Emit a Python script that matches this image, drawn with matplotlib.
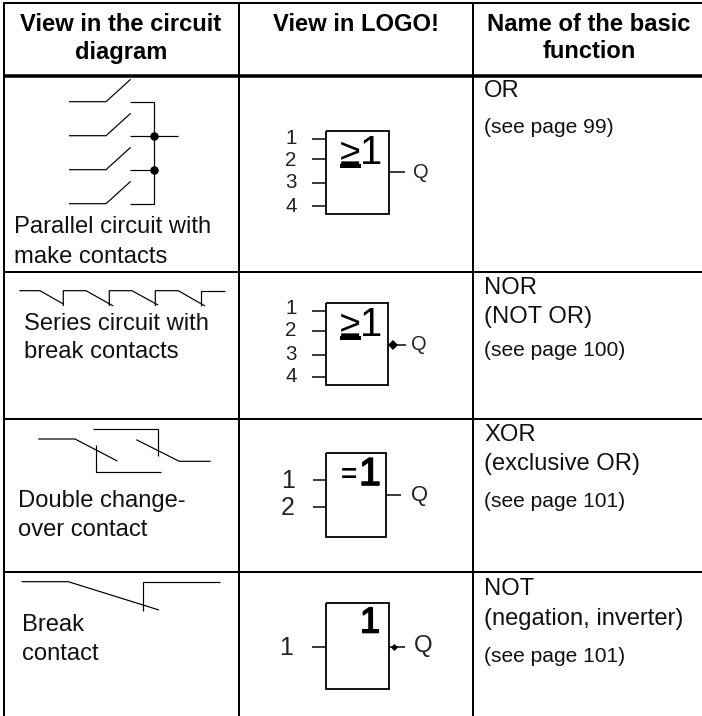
import matplotlib
matplotlib.use("Agg")
import matplotlib.pyplot as plt
import matplotlib.patheffects as pe

plt.rcParams['font.family'] = ['Liberation Sans', 'DejaVu Sans']

# table grid
grid_x = [4, 239, 473]
grid_y = [3, 75.5, 272, 419, 571.5]

# text, centre x, baseline y
headers = [
    ("View in the circuit", 121, 31), ("diagram", 121, 58.5),
    ("View in LOGO!", 356, 31),
    ("Name of the basic", 589, 31), ("function", 589, 58.5),
]

# text, x, baseline y
circuit_labels = [
    ("Parallel circuit with", 14, 233), ("make contacts", 14, 263),
    ("Series circuit with", 24, 330), ("break contacts", 24, 358),
    ("Double change-", 18, 507), ("over contact", 18, 536),
    ("Break", 22, 631), ("contact", 22, 660),
]
name_labels = [
    ("OR", 97), ("NOR", 294), ("(NOT OR)", 323),
    ("XOR", 441), ("(exclusive OR)", 470),
    ("NOT", 595), ("(negation, inverter)", 625),
]
page_labels = [("(see page 99)", 133), ("(see page 100)", 356), ("(see page 101)", 507), ("(see page 101)", 662)]

# circuit symbols, one polyline per entry
parallel_lines = [
    [(69, 101.7), (106, 101.7), (130.7, 79.3)],
    [(69, 135.7), (106, 135.7), (130.7, 113.3)],
    [(69, 169.7), (106, 169.7), (130.7, 147.3)],
    [(69, 203.7), (106, 203.7), (130.7, 181.3)],
    [(130, 101.7), (154, 101.7), (154, 203.7), (130, 203.7)],
    [(130, 135.7), (178.3, 135.7)],
    [(130, 169.7), (154, 169.7)],
]
parallel_dots = [(154, 135.7), (154, 169.7)]
series_lines = [
    [(19.3, 290.7), (40, 290.7), (63.3, 304)],
    [(63.3, 306), (63.3, 290.7), (86, 290.7), (113.3, 306)],
    [(109.3, 306), (109.3, 290.7), (132, 290.7), (158, 305)],
    [(155.3, 306), (155.3, 290.7), (178.3, 290.7), (205, 306)],
    [(201, 306), (201, 290.7), (225, 290.7)],
]
changeover_lines = [
    [(38.3, 439), (75, 439), (117.3, 461)],
    [(93.3, 429), (158, 429), (158, 456.3)],
    [(96.3, 444.7), (96.3, 471.7), (160.7, 471.7)],
    [(136.3, 439.7), (179.3, 461.3), (210.7, 461.3)],
]
break_lines = [
    [(21.7, 581.7), (68.3, 581.7), (159, 610)],
    [(142.7, 611.3), (142.7, 581.7), (220, 581.7)],
]

# LOGO! blocks: left, right, top, bottom
blocks = [(326, 388.7, 131, 214), (326, 387.7, 302.7, 385.3), (326, 385.7, 452.7, 536.7), (326, 388.7, 602.7, 688.7)]
block_inputs = [[138.7, 159.3, 182.7, 205.7], [310.7, 331, 354.7, 377.3], [480, 507.3], [647.3]]
input_start = [311.7, 311.7, 313.3, 311.7]
input_names = [["1", "2", "3", "4"], ["1", "2", "3", "4"], ["1", "2"], ["1"]]
input_label_x = [291, 291, 288, 286]
input_label_y = [[139, 160, 183, 206], [309, 331, 355, 377], [481, 507.7], [648]]
input_label_size = [20.5, 20.5, 25, 25]
block_output = [(405, 171.7), (406, 345), (400.7, 494.7), (405, 647.3)]
q_pos = [(420.7, 172.7), (419, 345), (420, 495), (422.7, 646)]
q_size = [20, 20, 22, 24]
inverted = [False, True, False, True]

fig = plt.figure(figsize=(7.02, 7.16), dpi=100)
ax = fig.add_axes([0, 0, 1, 1])
ax.set_xlim(0, 702)
ax.set_ylim(716, 0)
ax.axis('off')


def px(n):
    return n * 0.72


def poly(pts, w=1.2):
    ax.plot([p[0] for p in pts], [p[1] for p in pts], color='black', lw=px(w),
            solid_joinstyle='miter', solid_capstyle='butt')


# grid
for x in grid_x:
    ax.plot([x, x], [grid_y[0] - 1, 716], color='black', lw=px(2), solid_capstyle='butt')
for i, y in enumerate(grid_y):
    ax.plot([grid_x[0] - 1, 702], [y, y], color='black', lw=px(3.5 if i == 1 else 2), solid_capstyle='butt')

# header text
for text, x, y in headers:
    ax.text(x, y, text, ha='center', va='baseline', fontsize=px(23.7), fontweight='bold')

for text, x, y in circuit_labels:
    ax.text(x, y, text, ha='left', va='baseline', fontsize=px(23.7), color='#111111')
for text, y in name_labels:
    ax.text(484, y, text, ha='left', va='baseline', fontsize=px(23.7), color='#111111')
for text, y in page_labels:
    ax.text(484, y, text, ha='left', va='baseline', fontsize=px(21), color='#111111')

# circuit diagrams
for group in (parallel_lines, series_lines, changeover_lines, break_lines):
    for line in group:
        poly(line)
ax.plot([p[0] for p in parallel_dots], [p[1] for p in parallel_dots], 'o', color='black', ms=px(8.5), mew=0)

# LOGO! blocks
for i, (l, r, t, b) in enumerate(blocks):
    poly([(l, t), (r, t), (r, b), (l, b), (l, t)], 1.8)
    for y in block_inputs[i]:
        poly([(input_start[i], y), (l, y)], 1.5)
    ox, oy = block_output[i]
    poly([(r, oy), (ox, oy)], 1.5)
    if inverted[i]:
        ax.plot([r + 5], [oy], 'D', color='black', ms=px(7 if i == 1 else 5), mew=0)
    for name, y in zip(input_names[i], input_label_y[i]):
        ax.text(input_label_x[i], y, name, ha='center', va='center', fontsize=px(input_label_size[i]), color='#222222')
    ax.text(q_pos[i][0], q_pos[i][1], "Q", ha='center', va='center', fontsize=px(q_size[i]), color='#222222')

# block symbols
thick = [pe.withStroke(linewidth=1.2, foreground='black')]
for x1, y1, x2, y2 in [(350, 154, 371, 153), (350, 326, 371, 325)]:
    ax.text(x1, y1, "≥", ha='center', va='center', fontsize=px(37), color='black')
    ax.text(x2, y2, "1", ha='center', va='center', fontsize=px(40), color='black')
    ax.plot([x1 - 10, x1 + 11], [y1 + 12, y1 + 12], color='black', lw=px(4), solid_capstyle='butt')
ax.text(349.5, 476, "=", ha='center', va='center', fontsize=px(28), fontweight='bold')
ax.text(370, 475, "1", ha='center', va='center', fontsize=px(39), color='black', path_effects=thick)
ax.text(370, 623, "1", ha='center', va='center', fontsize=px(36), color='black', path_effects=thick)

fig.savefig("out.png", dpi=100)
